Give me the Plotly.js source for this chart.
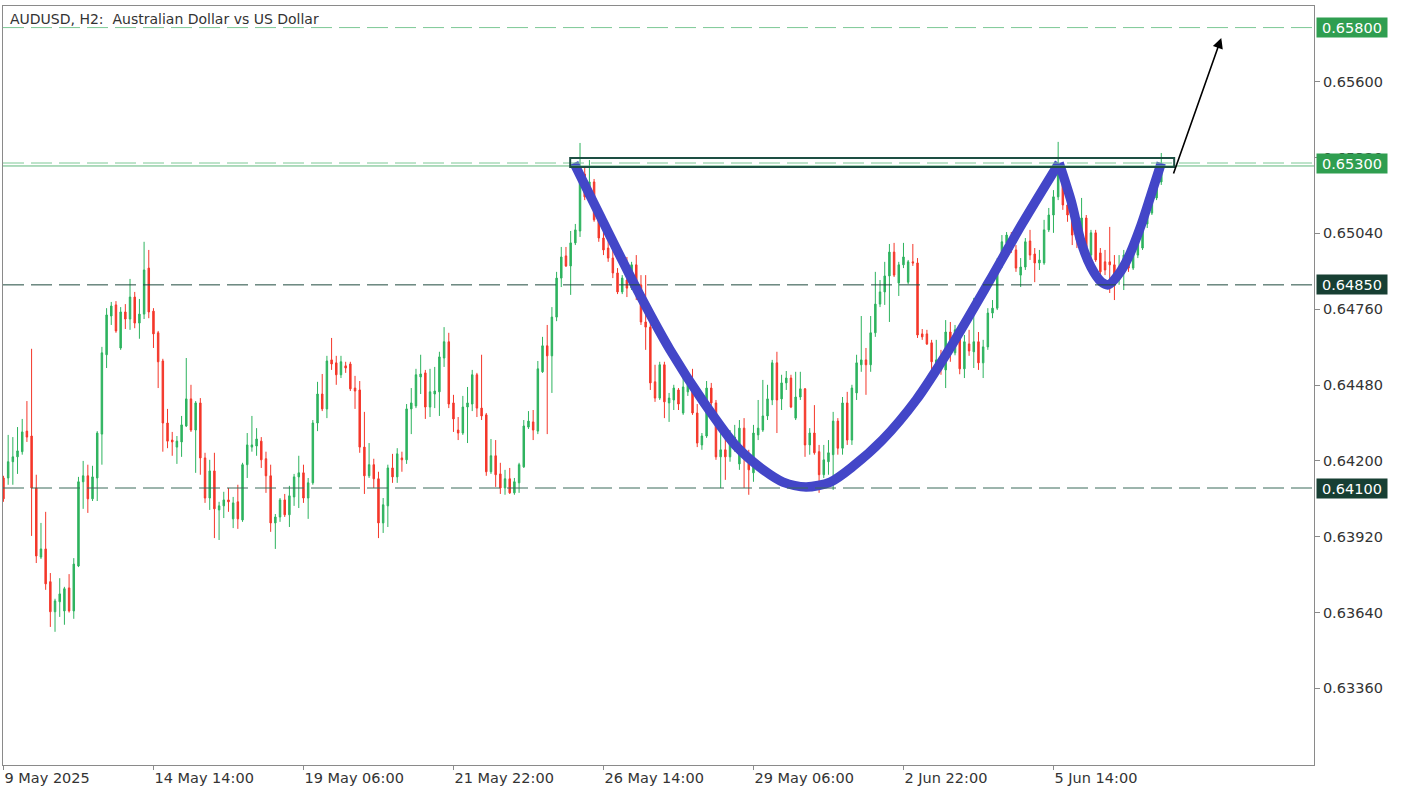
<!DOCTYPE html>
<html>
<head>
<meta charset="utf-8">
<script src="https://cdn.plot.ly/plotly-3.0.1.min.js"></script>
<style>
html,body{margin:0;padding:0;background:#fff;}
#chart{width:1411px;height:790px;}
</style>
</head>
<body>
<div id="chart"></div>
<script>
// ---- data (AUDUSD H2) ----
const openP = [0.64137,0.64137,0.64197,0.64215,0.64234,0.64310,0.64292,0.64100,0.63845,0.63875,
0.63754,0.63643,0.63680,0.63646,0.63731,0.63646,0.63812,0.64123,0.64145,0.64060,
0.64137,0.64299,0.64592,0.64735,0.64776,0.64617,0.64750,0.64724,0.64805,0.64709,
0.64742,0.64912,0.64753,0.64673,0.64569,0.64340,0.64277,0.64251,0.64270,0.64329,
0.64429,0.64314,0.64414,0.64211,0.64063,0.64163,0.64019,0.64034,0.64056,0.63986,
0.64049,0.63982,0.64186,0.64251,0.64255,0.64273,0.64208,0.64145,0.63971,0.63993,
0.64056,0.64001,0.64067,0.64141,0.64156,0.64063,0.64119,0.64340,0.64447,0.64392,
0.64573,0.64562,0.64518,0.64551,0.64558,0.64469,0.64462,0.64251,0.64145,0.64186,
0.64134,0.63971,0.64034,0.64174,0.64141,0.64211,0.64204,0.64392,0.64403,0.64510,
0.64525,0.64399,0.64447,0.64455,0.64580,0.64640,0.64414,0.64314,0.64303,0.64399,
0.64410,0.64518,0.64395,0.64370,0.64160,0.64219,0.64152,0.64100,0.64134,0.64082,
0.64119,0.64178,0.64325,0.64344,0.64310,0.64529,0.64625,0.64588,0.64731,0.64875,
0.64957,0.64920,0.65005,0.65049,0.65259,0.65175,0.65230,0.65090,0.65023,0.64986,
0.64949,0.64894,0.64824,0.64868,0.64838,0.64924,0.64850,0.64713,0.64694,0.64492,
0.64432,0.64555,0.64414,0.64425,0.64462,0.64377,0.64455,0.64488,0.64377,0.64259,
0.64292,0.64469,0.64414,0.64215,0.64241,0.64215,0.64251,0.64189,0.64321,0.64223,
0.64156,0.64296,0.64314,0.64366,0.64425,0.64562,0.64429,0.64488,0.64506,0.64358,
0.64436,0.64466,0.64259,0.64303,0.64234,0.64149,0.64197,0.64223,0.64347,0.64247,
0.64414,0.64277,0.64451,0.64555,0.64573,0.64555,0.64673,0.64779,0.64824,0.64883,
0.64971,0.64857,0.64924,0.64860,0.64935,0.64931,0.64669,0.64669,0.64636,0.64547,
0.64573,0.64536,0.64676,0.64599,0.64676,0.64540,0.64632,0.64603,0.64640,0.64562,
0.64621,0.64746,0.64764,0.64924,0.65005,0.65027,0.64979,0.64886,0.64916,0.65012,
0.64964,0.64931,0.64931,0.65053,0.65108,0.65175,0.65267,0.65145,0.65108,0.65045,
0.65016,0.65097,0.64960,0.65042,0.64968,0.64935,0.64935,0.64924,0.64868,0.64905,
0.64931,0.64912,0.64960,0.64986,0.65075,0.65115,0.65171,0.65230];

const highP = [0.64145,0.64296,0.64288,0.64325,0.64355,0.64421,0.64614,0.64149,0.63971,0.64012,
0.63786,0.63691,0.63767,0.63735,0.63782,0.63841,0.64141,0.64200,0.64186,0.64182,
0.64310,0.64621,0.64764,0.64787,0.64790,0.64768,0.64779,0.64872,0.64824,0.64798,
0.65009,0.64979,0.64764,0.64680,0.64577,0.64392,0.64307,0.64292,0.64366,0.64580,
0.64481,0.64421,0.64432,0.64230,0.64204,0.64230,0.64049,0.64086,0.64100,0.64067,
0.64112,0.64193,0.64303,0.64366,0.64321,0.64288,0.64234,0.64186,0.64004,0.64063,
0.64078,0.64108,0.64152,0.64219,0.64186,0.64137,0.64351,0.64492,0.64521,0.64588,
0.64654,0.64588,0.64588,0.64566,0.64566,0.64514,0.64495,0.64381,0.64266,0.64208,
0.64160,0.64063,0.64186,0.64226,0.64247,0.64234,0.64410,0.64469,0.64540,0.64592,
0.64536,0.64540,0.64547,0.64603,0.64694,0.64673,0.64444,0.64362,0.64440,0.64473,
0.64536,0.64525,0.64592,0.64377,0.64281,0.64277,0.64193,0.64167,0.64174,0.64137,
0.64193,0.64351,0.64384,0.64388,0.64569,0.64658,0.64702,0.64768,0.64898,0.64990,
0.64990,0.65049,0.65075,0.65374,0.65285,0.65311,0.65241,0.65108,0.65053,0.65016,
0.64979,0.64912,0.64886,0.64953,0.64935,0.64960,0.64886,0.64886,0.64713,0.64555,
0.64566,0.64566,0.64451,0.64481,0.64469,0.64536,0.64506,0.64540,0.64410,0.64303,
0.64495,0.64488,0.64425,0.64314,0.64296,0.64314,0.64333,0.64351,0.64358,0.64241,
0.64333,0.64425,0.64499,0.64481,0.64573,0.64603,0.64518,0.64532,0.64518,0.64529,
0.64529,0.64469,0.64321,0.64406,0.64259,0.64259,0.64277,0.64381,0.64358,0.64436,
0.64455,0.64481,0.64592,0.64735,0.64617,0.64735,0.64898,0.64868,0.64935,0.65001,
0.65005,0.64935,0.65005,0.64942,0.65001,0.64949,0.64687,0.64684,0.64647,0.64647,
0.64610,0.64720,0.64713,0.64702,0.64702,0.64665,0.64684,0.64802,0.64676,0.64647,
0.64764,0.64794,0.64949,0.65034,0.65045,0.65045,0.64997,0.64949,0.65023,0.65053,
0.64986,0.64979,0.65090,0.65134,0.65200,0.65378,0.65281,0.65182,0.65119,0.65071,
0.65171,0.65108,0.65053,0.65053,0.64986,0.64979,0.65064,0.64960,0.64960,0.64979,
0.64960,0.64997,0.65045,0.65108,0.65182,0.65200,0.65274,0.65337];

const lowP = [0.64049,0.64112,0.64112,0.64152,0.64223,0.64270,0.63923,0.63823,0.63838,0.63724,
0.63587,0.63569,0.63624,0.63595,0.63640,0.63617,0.63808,0.64023,0.64008,0.64052,
0.64052,0.64186,0.64543,0.64702,0.64673,0.64610,0.64687,0.64684,0.64690,0.64651,
0.64724,0.64727,0.64617,0.64469,0.64234,0.64247,0.64219,0.64189,0.64215,0.64325,
0.64307,0.64156,0.64149,0.64045,0.64019,0.63915,0.63908,0.63989,0.64012,0.63952,
0.63949,0.63975,0.64137,0.64234,0.64219,0.64174,0.64082,0.63938,0.63875,0.63975,
0.63993,0.63956,0.64034,0.64026,0.64045,0.63986,0.64112,0.64310,0.64384,0.64358,
0.64536,0.64481,0.64506,0.64525,0.64458,0.64392,0.64230,0.64078,0.64137,0.64100,
0.63915,0.63934,0.63956,0.64119,0.64119,0.64160,0.64189,0.64299,0.64395,0.64447,
0.64355,0.64362,0.64395,0.64366,0.64547,0.64395,0.64307,0.64277,0.64296,0.64266,
0.64384,0.64362,0.64351,0.64145,0.64152,0.64104,0.64078,0.64075,0.64078,0.64075,
0.64082,0.64174,0.64318,0.64277,0.64299,0.64525,0.64299,0.64451,0.64716,0.64842,
0.64916,0.64813,0.64997,0.65027,0.65163,0.65167,0.65083,0.65009,0.64960,0.64935,
0.64875,0.64816,0.64816,0.64805,0.64831,0.64794,0.64702,0.64610,0.64462,0.64418,
0.64425,0.64358,0.64344,0.64388,0.64388,0.64370,0.64440,0.64370,0.64251,0.64241,
0.64285,0.64403,0.64204,0.64100,0.64130,0.64197,0.64234,0.64167,0.64100,0.64075,
0.64123,0.64277,0.64307,0.64351,0.64406,0.64303,0.64388,0.64462,0.64395,0.64351,
0.64425,0.64215,0.64223,0.64223,0.64082,0.64137,0.64149,0.64093,0.64223,0.64223,
0.64259,0.64259,0.64425,0.64529,0.64444,0.64529,0.64658,0.64768,0.64776,0.64713,
0.64879,0.64809,0.64912,0.64853,0.64920,0.64654,0.64647,0.64628,0.64510,0.64506,
0.64518,0.64469,0.64566,0.64590,0.64520,0.64506,0.64588,0.64543,0.64536,0.64506,
0.64610,0.64727,0.64757,0.64912,0.64997,0.64968,0.64898,0.64842,0.64905,0.64942,
0.64860,0.64905,0.64924,0.65045,0.65042,0.65163,0.65127,0.65083,0.64997,0.64986,
0.64997,0.64971,0.64949,0.64935,0.64886,0.64886,0.64820,0.64794,0.64850,0.64831,
0.64898,0.64905,0.64949,0.64979,0.65060,0.65108,0.65163,0.65219];

const closeP = [0.64060,0.64197,0.64215,0.64237,0.64307,0.64288,0.64100,0.63849,0.63875,0.63746,
0.63643,0.63683,0.63709,0.63728,0.63646,0.63819,0.64123,0.64145,0.64060,0.64141,
0.64303,0.64599,0.64739,0.64772,0.64680,0.64750,0.64724,0.64805,0.64709,0.64742,
0.64905,0.64750,0.64669,0.64566,0.64340,0.64273,0.64270,0.64273,0.64333,0.64429,
0.64314,0.64414,0.64211,0.64063,0.64163,0.64023,0.64034,0.64056,0.64049,0.64045,
0.63986,0.64186,0.64259,0.64259,0.64281,0.64204,0.64145,0.63971,0.63993,0.64056,
0.64001,0.64071,0.64141,0.64156,0.64063,0.64119,0.64340,0.64447,0.64392,0.64569,
0.64558,0.64518,0.64566,0.64543,0.64466,0.64458,0.64251,0.64145,0.64186,0.64134,
0.63971,0.64038,0.64174,0.64141,0.64226,0.64204,0.64392,0.64414,0.64518,0.64521,
0.64399,0.64455,0.64458,0.64584,0.64640,0.64410,0.64355,0.64303,0.64399,0.64414,
0.64518,0.64395,0.64366,0.64160,0.64219,0.64149,0.64100,0.64134,0.64082,0.64123,
0.64186,0.64329,0.64347,0.64314,0.64540,0.64625,0.64588,0.64731,0.64875,0.64953,
0.64920,0.65005,0.65053,0.65252,0.65175,0.65230,0.65090,0.65023,0.64979,0.64949,
0.64894,0.64824,0.64875,0.64838,0.64924,0.64850,0.64713,0.64694,0.64488,0.64432,
0.64555,0.64418,0.64432,0.64469,0.64410,0.64473,0.64481,0.64377,0.64266,0.64292,
0.64469,0.64414,0.64215,0.64241,0.64215,0.64277,0.64288,0.64321,0.64215,0.64167,
0.64303,0.64321,0.64366,0.64429,0.64562,0.64425,0.64488,0.64506,0.64399,0.64436,
0.64466,0.64259,0.64303,0.64230,0.64149,0.64204,0.64230,0.64347,0.64247,0.64414,
0.64277,0.64469,0.64562,0.64573,0.64555,0.64673,0.64779,0.64824,0.64883,0.64971,
0.64886,0.64924,0.64953,0.64935,0.64931,0.64665,0.64658,0.64632,0.64566,0.64573,
0.64536,0.64676,0.64599,0.64684,0.64540,0.64640,0.64606,0.64640,0.64562,0.64621,
0.64746,0.64764,0.64924,0.65009,0.65034,0.64979,0.64912,0.64916,0.65009,0.64960,
0.64931,0.64942,0.65053,0.65108,0.65175,0.65281,0.65145,0.65108,0.65034,0.65016,
0.65097,0.64990,0.65042,0.64942,0.64898,0.64905,0.64924,0.64875,0.64912,0.64960,
0.64912,0.64968,0.65016,0.65079,0.65119,0.65182,0.65237,0.65289];

// time-axis labels (bar index of each label)
const timeTickIdx = [0, 32, 64, 96, 128, 160, 192, 224];
const timeTickText = ["9 May 2025","14 May 14:00","19 May 06:00","21 May 22:00","26 May 14:00","29 May 06:00","2 Jun 22:00","5 Jun 14:00"];
// price-axis ticks
const priceTicks = [0.6336,0.6364,0.6392,0.6420,0.6448,0.6476,0.6504,0.6532,0.6560];

// horizontal levels drawn on the chart
const levelTarget = 0.6580;
const levelNeck = 0.6530;
const levelHandle = 0.6485;
const levelBottom = 0.6410;

// cup & handle drawing (bar index, price)
const cupIdx   = [121.7,127.5,136.0,142.2,149.5,156.5,162.1,166.3,171.2,176.4,181.3,187.5,194.7,201.7,210.1,217.3,225.2];
const cupPrice = [0.65300,0.65097,0.64805,0.64610,0.64414,0.64251,0.64167,0.64122,0.64104,0.64122,0.64181,0.64277,0.64425,0.64610,0.64857,0.65075,0.65300];
const handleIdx   = [225.2,227.8,229.9,232.0,234.2,235.7,237.8,239.9,242.7,244.8,247.0];
const handlePrice = [0.65300,0.65158,0.65008,0.64916,0.64861,0.64850,0.64887,0.64949,0.65071,0.65182,0.65300];
const zoneIdx = [120.9, 249.75];
const zonePrice = [0.65285, 0.65318];
const arrowFrom = [249.5, 0.65256];
const arrowTo = [259.8, 0.65762];

// ---- build ----
const idx = openP.map((_, i) => i);
const bid = closeP[closeP.length - 1];
const GREEN = '#2db35e', RED = '#f4372a';
const FONT = 'DejaVu Sans, Verdana, sans-serif';

const candles = {
  type: 'candlestick', x: idx, open: openP, high: highP, low: lowP, close: closeP,
  increasing: {line: {color: GREEN, width: 1}, fillcolor: GREEN},
  decreasing: {line: {color: RED, width: 1}, fillcolor: RED},
  whiskerwidth: 0, hoverinfo: 'skip', showlegend: false
};
const cup = {type: 'scatter', mode: 'lines', x: cupIdx, y: cupPrice,
  line: {color: '#4346c8', width: 9.5, shape: 'spline', smoothing: 0.8}, hoverinfo: 'skip', showlegend: false};
const handle = {type: 'scatter', mode: 'lines', x: handleIdx, y: handlePrice,
  line: {color: '#4346c8', width: 9.5, shape: 'spline', smoothing: 0.8}, hoverinfo: 'skip', showlegend: false};

function hline(y, color, dash, width) {
  return {type: 'line', xref: 'paper', x0: 0, x1: 1, yref: 'y', y0: y, y1: y,
    line: {color: color, width: width || 1, dash: dash}, layer: 'above'};
}
const shapes = [
  hline(levelTarget, '#7cc895', '21px,7px'),
  hline(levelNeck, '#7cc895', '21px,7px'),
  hline(bid, '#5fb77c', 'solid'),
  hline(levelHandle, '#1f4a3d', '21px,7px'),
  hline(levelBottom, '#3b6a5b', '21px,7px'),
  {type: 'rect', xref: 'x', yref: 'y', x0: zoneIdx[0], x1: zoneIdx[1], y0: zonePrice[0], y1: zonePrice[1],
   line: {color: '#1d4f43', width: 2}, fillcolor: 'rgba(255,255,255,0)', layer: 'above'}
];

function priceBox(y, bg) {
  return {xref: 'paper', x: 1, xanchor: 'left', xshift: 2, yref: 'y', y: y, yanchor: 'middle',
    text: y.toFixed(5), showarrow: false, bgcolor: bg, borderpad: 1, width: 68, height: 17,
    align: 'center', font: {family: FONT, size: 14.5, color: '#ffffff'}};
}
const annotations = [
  {xref: 'paper', x: 0.0038, xanchor: 'left', yref: 'paper', y: 1, yanchor: 'top', yshift: -3,
   text: 'AUDUSD, H2: \u00a0Australian Dollar vs US Dollar', showarrow: false,
   font: {family: FONT, size: 14, color: '#333333'}},
  priceBox(levelTarget, '#2f9e50'),
  priceBox(levelNeck, '#2f9e50'),
  priceBox(levelHandle, '#173f33'),
  priceBox(levelBottom, '#173f33'),
  {xref: 'x', yref: 'y', x: arrowTo[0], y: arrowTo[1], axref: 'x', ayref: 'y', ax: arrowFrom[0], ay: arrowFrom[1],
   text: '', showarrow: true, arrowhead: 2, arrowsize: 1.3, arrowwidth: 1.6, arrowcolor: '#000000'}
];

const layout = {
  width: 1411, height: 790,
  margin: {l: 3, r: 97, t: 6, b: 25},
  paper_bgcolor: '#ffffff', plot_bgcolor: '#ffffff',
  showlegend: false, boxgap: 0.55,
  xaxis: {range: [-0.1, 279.58], showgrid: false, zeroline: false, rangeslider: {visible: false},
    showline: true, mirror: true, linecolor: '#8a8a8a', linewidth: 1,
    ticks: 'outside', ticklen: 4, tickcolor: '#8a8a8a',
    tickmode: 'array', tickvals: timeTickIdx, ticktext: timeTickText,
    ticklabelposition: 'outside right',
    tickfont: {family: FONT, size: 14.5, color: '#333333'}},
  yaxis: {range: [0.630772, 0.658797], side: 'right', showgrid: false, zeroline: false,
    showline: true, mirror: true, linecolor: '#8a8a8a', linewidth: 1,
    ticks: 'outside', ticklen: 5, tickcolor: '#8a8a8a',
    tickmode: 'array', tickvals: priceTicks, tickformat: '.5f',
    tickfont: {family: FONT, size: 14.5, color: '#333333'}},
  shapes: shapes, annotations: annotations
};

Plotly.newPlot('chart', [candles, cup, handle], layout, {displayModeBar: false, staticPlot: true});
</script>
</body>
</html>
